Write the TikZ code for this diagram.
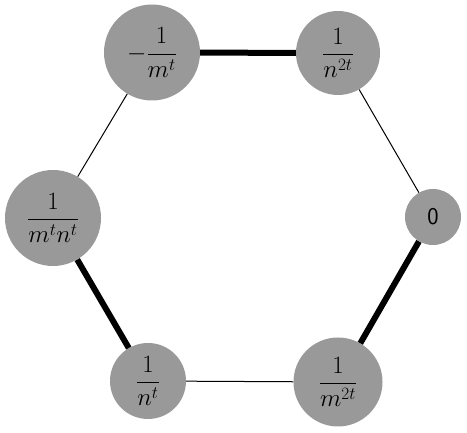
\documentclass[tikz,border=0pt]{standalone}
\usepackage{amsmath}
\begin{document}
\begin{tikzpicture}[x=1pt,y=1pt,
  vnode/.style={circle,fill=black!40,inner sep=0pt,font=\fontsize{24}{28}\selectfont},
  thin edge/.style={line width=1pt},
  thick edge/.style={line width=6pt}]
\useasboundingbox (0,0) rectangle (467,433);
\node[vnode,minimum size=96pt] (a) at (152,380.5) {$-\dfrac{1}{m^t}$};
\node[vnode,minimum size=84pt] (b) at (338,380) {$\dfrac{1}{n^{2t}}$};
\node[vnode,minimum size=56pt,font=\fontsize{24}{28}\sffamily] (c) at (433,216) {0};
\node[vnode,minimum size=89pt] (d) at (338,51) {$\dfrac{1}{m^{2t}}$};
\node[vnode,minimum size=76pt] (e) at (148,52) {$\dfrac{1}{n^t}$};
\node[vnode,minimum size=96pt] (f) at (53,215) {$\dfrac{1}{m^tn^t}$};
\draw[thick edge] (a) -- (b);
\draw[thin edge] (b) -- (c);
\draw[thick edge] (c) -- (d);
\draw[thin edge] (d) -- (e);
\draw[thick edge] (e) -- (f);
\draw[thin edge] (f) -- (a);
\end{tikzpicture}
\end{document}
